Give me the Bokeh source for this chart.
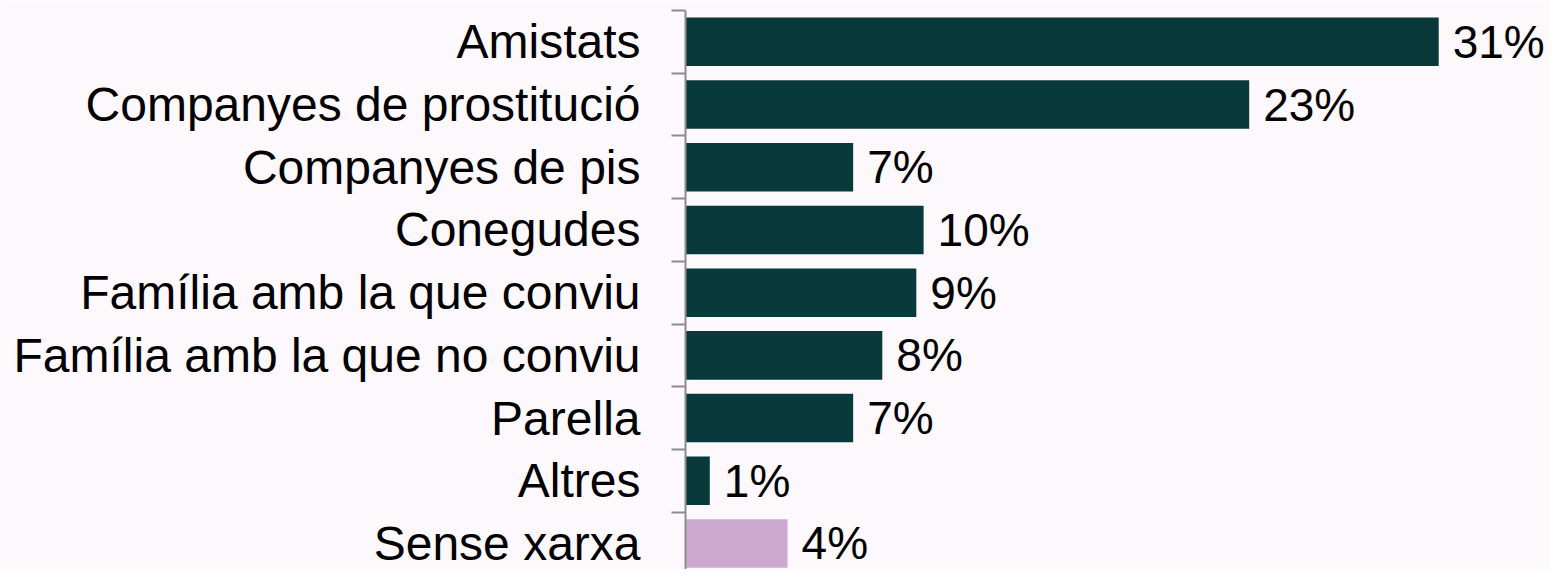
from bokeh.plotting import figure
from bokeh.models import ColumnDataSource, Range1d, FixedTicker
from bokeh.core.properties import value
from bokeh.embed import file_html
from bokeh.resources import INLINE

categories = ["Amistats", "Companyes de prostitució", "Companyes de pis", "Conegudes",
              "Família amb la que conviu", "Família amb la que no conviu", "Parella",
              "Altres", "Sense xarxa"]
values = [31.0, 23.2, 6.9, 9.8, 9.5, 8.1, 6.9, 1.0, 4.2]
labels = ["31%", "23%", "7%", "10%", "9%", "8%", "7%", "1%", "4%"]
groups = ["xarxa"] * 8 + ["sense"]

TEAL = "#083A3C"
PINK = "#CDA8D0"
BG = "#FCF8FC"
FONT = "Liberation Sans"

n = len(categories)
ypos = [n - i - 0.5 for i in range(n)]
colors = [TEAL if g == "xarxa" else PINK for g in groups]

src = ColumnDataSource(dict(cat=categories, val=values, lab=labels, y=ypos, color=colors))

p = figure(width=1549, height=569, output_backend="svg", toolbar_location=None,
           x_range=Range1d(0, 35.56), y_range=Range1d(0.085, 9.0),
           min_border_left=685, min_border_right=0, min_border_top=10, min_border_bottom=0,
           x_axis_location=None)
p.background_fill_color = BG
p.border_fill_color = BG
p.outline_line_color = None
p.xgrid.visible = False
p.ygrid.visible = False

p.hbar(y="y", right="val", left=0, height=0.774, color="color", line_color=None, source=src)
p.text(x="val", y="y", text="lab", source=src, x_offset=14,
       text_font=value(FONT), text_font_size="46px", text_baseline="middle",
       text_align="left", text_color="#000000")

ax = p.yaxis[0]
ax.ticker = FixedTicker(ticks=ypos, minor_ticks=list(range(0, n + 1)))
ax.major_label_overrides = {y: c for y, c in zip(ypos, categories)}
ax.major_tick_line_color = None
ax.major_tick_out = 0
ax.major_tick_in = 0
ax.minor_tick_line_color = "#8C8C8C"
ax.minor_tick_line_width = 2
ax.minor_tick_out = 14
ax.minor_tick_in = 0
ax.axis_line_color = "#8C8C8C"
ax.axis_line_width = 2
ax.major_label_standoff = 31
ax.major_label_text_font = FONT
ax.major_label_text_font_size = "48px"
ax.major_label_text_color = "#000000"

open("out.html", "w").write(file_html(p, INLINE))
